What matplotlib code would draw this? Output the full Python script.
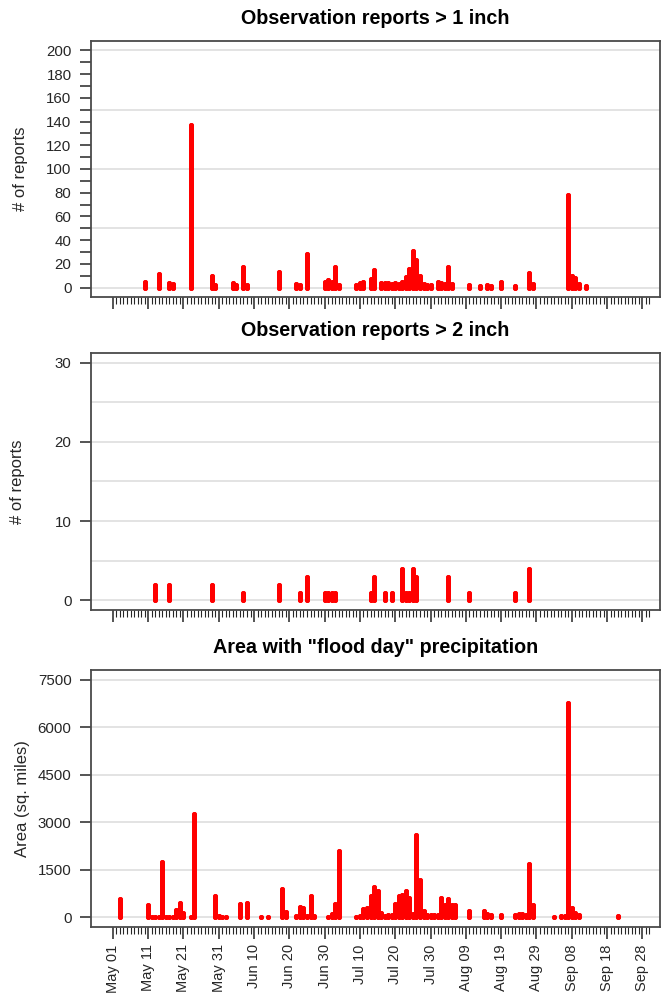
import numpy as np
import matplotlib
matplotlib.use("Agg")
import matplotlib.pyplot as plt
from datetime import date, timedelta

plt.rcParams['font.family'] = ['Liberation Sans', 'DejaVu Sans']

# day offsets are counted from May 01
START = date(2016, 5, 1)

# Observation reports > 1 inch
over1_days = [9, 13, 16, 17, 22, 28, 29, 34, 35, 37, 38, 47, 52, 53, 55,
              60, 61, 62, 63, 64, 69, 70, 71, 73, 74, 76, 77, 78, 79, 80,
              81, 82, 83, 84, 85, 86, 87, 88, 89, 90, 92, 93, 94, 95, 96,
              101, 104, 106, 107, 110, 114, 118, 119, 129, 130, 131, 132, 134]
over1_counts = [5, 11, 4, 3, 137, 10, 2, 4, 2, 17, 2, 13, 3, 2, 28,
                5, 6, 5, 17, 2, 2, 4, 5, 7, 15, 4, 4, 4, 3, 4,
                3, 5, 9, 16, 31, 23, 10, 3, 2, 2, 5, 4, 3, 17, 3,
                2, 1, 2, 1, 5, 1, 12, 3, 78, 10, 8, 3, 1]

# Observation reports > 2 inch
over2_days = [12, 16, 28, 37, 47, 53, 55, 60, 61, 62, 63, 73, 74, 77, 79,
              82, 83, 84, 85, 86, 95, 101, 114, 118]
over2_counts = [2, 2, 2, 1, 2, 1, 3, 1, 1, 1, 1, 1, 3, 1, 1,
                4, 1, 1, 4, 3, 3, 1, 1, 4]

# Area with "flood day" precipitation (sq. miles)
area_days = [2, 10, 11, 12, 13, 14, 15, 16, 17, 18, 19, 20, 22, 23,
             29, 30, 31, 32, 36, 38, 42, 44, 48, 49,
             52, 53, 54, 55, 56, 57, 61, 62, 63, 64, 69, 70,
             71, 72, 73, 74, 75, 76, 77, 78, 79, 80, 81, 82, 83, 84,
             85, 86, 87, 88, 89, 90, 91, 92, 93, 94, 95, 96, 97,
             101, 105, 106, 107, 110, 114, 115, 116, 117, 118, 119,
             125, 127, 128, 129, 130, 131, 132, 143]
area_sqmi = [580, 380, 0, 0, 0, 1750, 0, 0, 0, 250, 460, 150, 0, 3250,
             690, 40, 0, 30, 420, 460, 30, 30, 900, 160,
             60, 330, 300, 40, 690, 40, 0, 100, 440, 2100, 0, 40,
             270, 300, 690, 950, 820, 140, 50, 75, 75, 440, 690, 710, 820, 620,
             110, 2600, 1170, 220, 75, 75, 75, 75, 620, 380, 580, 380, 380,
             190, 220, 110, 80, 80, 80, 110, 110, 80, 1700, 400,
             30, 40, 50, 6750, 300, 140, 80, 60]

W, H = 661, 997
fig = plt.figure(figsize=(W / 100, H / 100), dpi=100)

left_px, right_px = 91, 660
boxes = [(41, 297), (353, 610), (670, 927)]

panels = [
    (over1_days, over1_counts, "Observation reports > 1 inch", "# of reports",
     (-8, 208), np.arange(0, 201, 20), np.arange(0, 201, 10), np.arange(0, 201, 50), 20),
    (over2_days, over2_counts, "Observation reports > 2 inch", "# of reports",
     (-1.2, 31.2), np.arange(0, 31, 10), [], np.arange(0, 31, 5), 17),
    (area_days, area_sqmi, 'Area with "flood day" precipitation', "Area (sq. miles)",
     (-300, 7800), np.arange(0, 7501, 1500), [], np.arange(0, 7501, 1500), 22),
]

red = "#ff0000"
ink = "#262626"
lw = 3.6
for i, (days, vals, title, ylab, ylim, yt, ymin, grid, ylab_x) in enumerate(panels):
    top, bot = boxes[i]
    ax = fig.add_axes([left_px / W, 1 - bot / H, (right_px - left_px) / W, (bot - top) / H])
    for g in grid:
        ax.axhline(g, color="#dedede", lw=1.2, zorder=0)
    ax.vlines(days, 0, vals, colors=red, linewidth=lw, capstyle="round", zorder=3)
    ax.plot(days, np.zeros(len(days)), "o", color=red, ms=lw, mew=0, zorder=3)
    ax.plot(days, vals, "o", color=red, ms=lw, mew=0, zorder=3)

    ax.set_xlim(-6.2, 155)
    ax.set_ylim(*ylim)
    ax.set_yticks(yt)
    ax.set_yticks(ymin, minor=True)
    ax.tick_params(axis="y", which="both", length=8, width=1.1, color=ink,
                   labelsize=10.8, labelcolor=ink, pad=6)
    ax.set_title(title, fontsize=14.2, fontweight="bold", pad=12)
    ax.set_ylabel(ylab, fontsize=12, color=ink, va="center")
    ax.yaxis.set_label_coords((ylab_x - left_px) / (right_px - left_px), 0.5)

    major = np.arange(0, 151, 10)
    ax.set_xticks(major)
    ax.set_xticks(np.arange(0, 153, 1), minor=True)
    ax.tick_params(axis="x", which="major", length=8.5, width=1.1, color=ink, pad=4)
    ax.tick_params(axis="x", which="minor", length=4.8, width=0.8, color=ink)
    if i == 2:
        labels = [(START + timedelta(days=int(d))).strftime("%b %d") for d in major]
        ax.set_xticklabels(labels, rotation=90, fontsize=10.5, color=ink)
    else:
        ax.set_xticklabels([])

    for s in ax.spines.values():
        s.set_color("#4a4a4a")
        s.set_linewidth(1.3)

fig.savefig("out.png", dpi=100)
